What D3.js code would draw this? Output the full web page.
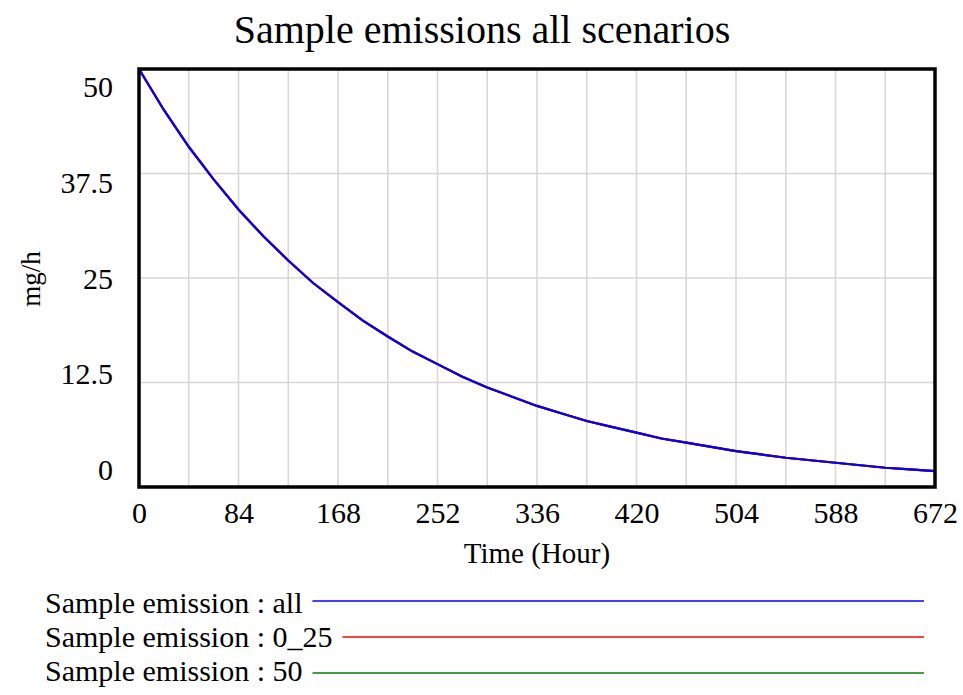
<!DOCTYPE html>
<html>
<head>
<meta charset="utf-8">
<script src="https://cdn.jsdelivr.net/npm/d3@7"></script>
<style>
  body { margin: 0; background: #fff; }
  text { font-family: "Liberation Serif", "Times New Roman", serif; fill: #000; }
</style>
</head>
<body>
<div id="chart"></div>
<script>
// hours, read every 21 h off the curve
const hours = [0, 21, 42, 63, 84, 105, 126, 147, 168, 189, 210, 231, 252, 273, 294, 315, 336,
  357, 378, 399, 420, 441, 462, 483, 504, 525, 546, 567, 588, 609, 630, 651, 672];
const emissionAll = [50, 45.1, 40.7, 36.8, 33.2, 30.0, 27.1, 24.4, 22.1, 19.9, 18.0, 16.2, 14.7,
  13.2, 11.9, 10.8, 9.7, 8.8, 7.9, 7.2, 6.5, 5.8, 5.3, 4.8, 4.3, 3.9, 3.5, 3.2, 2.9, 2.6, 2.3, 2.1, 1.9];
// the other two scenarios lie exactly under the "all" line
const emission025 = emissionAll.slice();
const emission50 = emissionAll.slice();

const xTicks = [0, 84, 168, 252, 336, 420, 504, 588, 672];
const yTicks = [0, 12.5, 25, 37.5, 50];
const seriesNames = ["Sample emission : all", "Sample emission : 0_25", "Sample emission : 50"];
const seriesColors = ["#0000ff", "#ff0000", "#008000"];

const width = 963, height = 695;
const plot = { left: 139, right: 935, top: 69, bottom: 487 };

const svg = d3.select("#chart").append("svg")
  .attr("width", width)
  .attr("height", height);

const x = d3.scaleLinear().domain([0, 672]).range([plot.left, plot.right]);
const y = d3.scaleLinear().domain([0, 50]).range([plot.bottom, plot.top]);
// Vensim squeezes the value labels inside the frame
const yLabel = d3.scaleLinear().domain([0, 50]).range([470, 87]);

// grid
svg.append("g")
  .selectAll("line.vgrid")
  .data(d3.range(42, 672, 42))
  .enter()
  .append("line")
  .attr("x1", d => x(d)).attr("x2", d => x(d))
  .attr("y1", plot.top).attr("y2", plot.bottom)
  .style("stroke", "#d6d6d6")
  .style("stroke-width", 1.5);

svg.append("g")
  .selectAll("line.hgrid")
  .data([12.5, 25, 37.5])
  .enter()
  .append("line")
  .attr("x1", plot.left).attr("x2", plot.right)
  .attr("y1", d => y(d)).attr("y2", d => y(d))
  .style("stroke", "#d6d6d6")
  .style("stroke-width", 1.5);

// series lines, drawn so "all" ends up on top
const line = d3.line()
  .x((d, i) => x(hours[i]))
  .y(d => y(d));

const seriesData = [emissionAll, emission025, emission50];
[2, 1, 0].forEach(function (k) {
  svg.append("path")
    .datum(seriesData[k])
    .attr("d", line)
    .style("fill", "none")
    .style("stroke", seriesColors[k])
    .style("stroke-width", 2.2);
});

// frame
svg.append("rect")
  .attr("x", plot.left).attr("y", plot.top)
  .attr("width", plot.right - plot.left)
  .attr("height", plot.bottom - plot.top)
  .style("fill", "none")
  .style("stroke", "#000")
  .style("stroke-width", 3.5);

// axes
const xAxis = svg.append("g")
  .attr("transform", "translate(0," + (plot.bottom + 7) + ")")
  .call(d3.axisBottom(x).tickValues(xTicks).tickSize(0).tickPadding(8));
xAxis.select(".domain").remove();
xAxis.selectAll("text")
  .style("font-size", "30px")
  .style("font-family", "Liberation Serif, serif");

const yAxis = svg.append("g")
  .attr("transform", "translate(" + 123 + ",0)")
  .call(d3.axisLeft(yLabel).tickValues(yTicks).tickSize(0).tickPadding(10)
    .tickFormat(d => String(d)));
yAxis.select(".domain").remove();
yAxis.selectAll("text")
  .style("font-size", "30px")
  .style("font-family", "Liberation Serif, serif");

// titles
svg.append("text")
  .attr("x", 482)
  .attr("y", 43)
  .attr("text-anchor", "middle")
  .style("font-size", "40px")
  .text("Sample emissions all scenarios");

svg.append("text")
  .attr("x", 537)
  .attr("y", 563)
  .attr("text-anchor", "middle")
  .style("font-size", "29px")
  .text("Time (Hour)");

svg.append("text")
  .attr("transform", "translate(40,279) rotate(-90)")
  .attr("text-anchor", "middle")
  .style("font-size", "27px")
  .text("mg/h");

// legend
const legend = svg.append("g");
seriesNames.forEach(function (name, i) {
  const t = legend.append("text")
    .attr("x", 45)
    .attr("y", 613 + i * 34)
    .style("font-size", "30px")
    .text(name);
  const len = t.node().getComputedTextLength();
  legend.append("line")
    .attr("x1", 45 + len + 10).attr("x2", 924)
    .attr("y1", 601 + i * 36).attr("y2", 601 + i * 36)
    .style("stroke", seriesColors[i])
    .style("stroke-width", 1.5);
});
</script>
</body>
</html>
